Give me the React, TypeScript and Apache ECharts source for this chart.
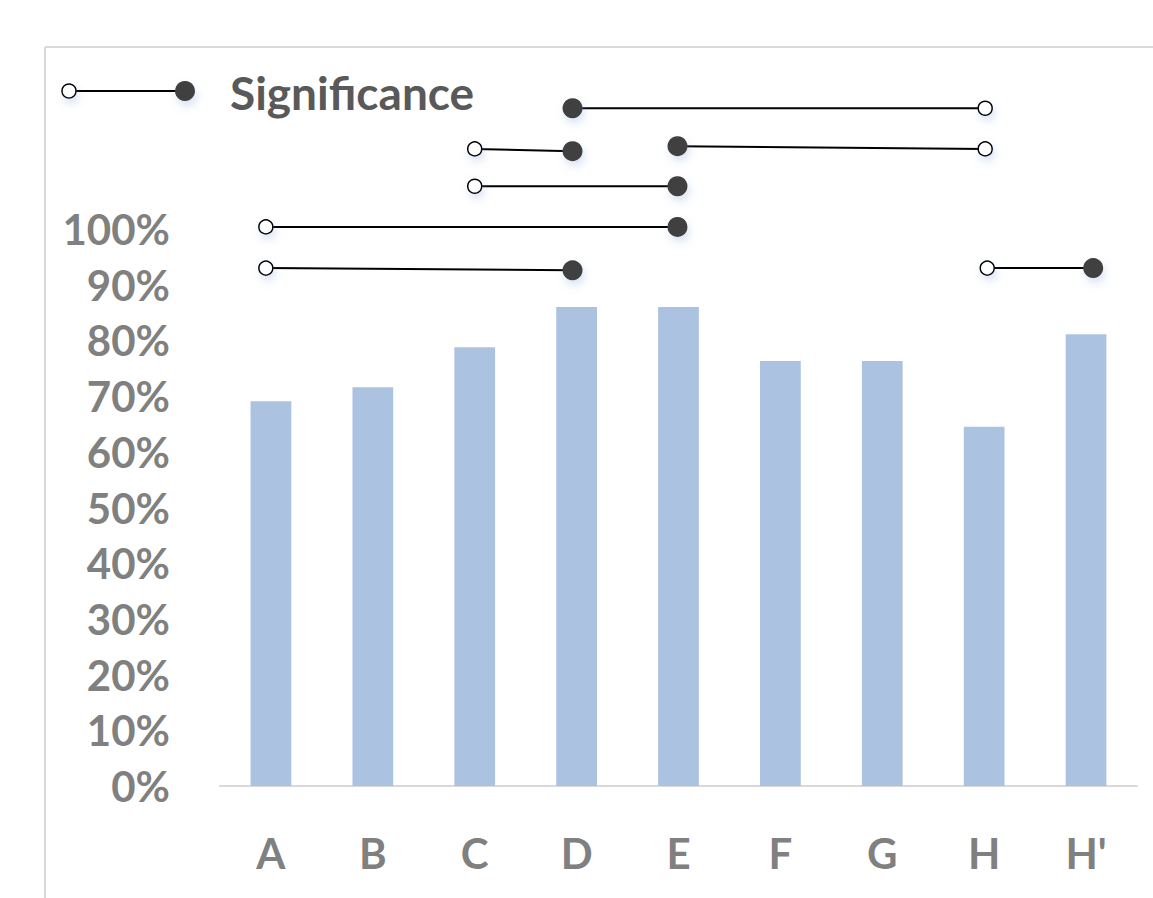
import React, { useEffect, useRef } from "react";
import * as echarts from "echarts";

const categories = ["A", "B", "C", "D", "E", "F", "G", "H", "H'"];
const barValues = [69.1, 71.6, 78.8, 86.0, 86.0, 76.3, 76.3, 64.5, 81.1];
const yTicks = [0, 10, 20, 30, 40, 50, 60, 70, 80, 90, 100];

// Significance connectors: [x (category units, centre = index + 0.5), y (%), kind]
const sigLines: [number, number, string][][] = [
  [[3.46, 121.7, "filled"], [7.51, 121.7, "open"]],
  [[2.5, 114.4, "open"], [3.46, 114.0, "filled"]],
  [[4.49, 114.9, "filled"], [7.51, 114.4, "open"]],
  [[2.5, 107.7, "open"], [4.49, 107.7, "filled"]],
  [[0.45, 100.4, "open"], [4.49, 100.4, "filled"]],
  [[0.45, 93.0, "open"], [3.46, 92.6, "filled"]],
  [[7.53, 93.0, "open"], [8.57, 93.0, "filled"]],
];
const legendLabel = "Significance";

const FONT = "Lato";
const shadow = {
  shadowBlur: 8,
  shadowColor: "rgba(120,150,210,0.28)",
  shadowOffsetY: 5,
  shadowOffsetX: 2,
};

function pointItem(p: [number, number, string]) {
  const filled = p[2] === "filled";
  return {
    value: [p[0], p[1]],
    symbolSize: filled ? 20 : 14,
    itemStyle: filled
      ? { color: "#404040", borderColor: "#404040", borderWidth: 0, ...shadow }
      : { color: "#ffffff", borderColor: "#000000", borderWidth: 1.5, ...shadow },
  };
}

export default function App() {
  const ref = useRef<HTMLDivElement>(null);
  useEffect(() => {
    document.body.style.margin = "0";
    const chart = echarts.init(ref.current!, null, { renderer: "svg" });
    const sigSeries = sigLines.map((pair) => ({
      type: "line",
      xAxisIndex: 1,
      yAxisIndex: 0,
      data: pair.map(pointItem),
      symbol: "circle",
      showSymbol: true,
      clip: false,
      lineStyle: { color: "#000000", width: 2 },
      z: 5,
      silent: true,
    }));
    chart.setOption({
      animation: false,
      backgroundColor: "#ffffff",
      grid: { left: 220, right: 16, top: 47, bottom: 112, containLabel: false },
      xAxis: [
        {
          type: "category",
          data: categories,
          boundaryGap: true,
          axisLine: { show: true, lineStyle: { color: "#d9d9d9", width: 2 } },
          axisTick: { show: false },
          axisLabel: {
            color: "#808080",
            fontFamily: FONT,
            fontWeight: "bold",
            fontSize: 42,
            margin: 46,
          },
        },
        { type: "value", min: 0, max: 9, show: false },
      ],
      yAxis: {
        type: "value",
        min: 0,
        max: 132.7,
        interval: 10,
        splitLine: { show: false },
        axisLine: { show: false },
        axisTick: { show: false },
        axisLabel: {
          color: "#808080",
          fontFamily: FONT,
          fontWeight: "bold",
          fontSize: 42,
          margin: 50,
          formatter: (v: number) => (yTicks.indexOf(Math.round(v)) >= 0 && v <= 100 ? Math.round(v) + "%" : ""),
        },
      },
      series: [
        {
          type: "bar",
          data: barValues,
          barWidth: "40%",
          itemStyle: { color: "#abc2e1" },
          silent: true,
        },
        ...sigSeries,
      ],
      graphic: [
        { type: "line", shape: { x1: 45, y1: 47, x2: 1153, y2: 47 }, style: { stroke: "#d9d9d9", lineWidth: 2 } },
        { type: "line", shape: { x1: 45, y1: 47, x2: 45, y2: 898 }, style: { stroke: "#d9d9d9", lineWidth: 2 } },
        { type: "line", shape: { x1: 69, y1: 91, x2: 185, y2: 91 }, style: { stroke: "#000", lineWidth: 2 } },
        { type: "circle", shape: { cx: 69, cy: 91, r: 7 }, style: { fill: "#fff", stroke: "#000", lineWidth: 1.5, ...shadow }, z: 10 },
        { type: "circle", shape: { cx: 185, cy: 91, r: 10 }, style: { fill: "#404040", ...shadow }, z: 10 },
        {
          type: "text",
          x: 230,
          y: 92,
          style: {
            text: legendLabel,
            fill: "#595959",
            font: `bold 46px ${FONT}`,
            textVerticalAlign: "middle",
            verticalAlign: "middle",
          },
        },
      ],
    });
    return () => chart.dispose();
  }, []);
  return <div ref={ref} style={{ width: 1153, height: 898 }} />;
}
